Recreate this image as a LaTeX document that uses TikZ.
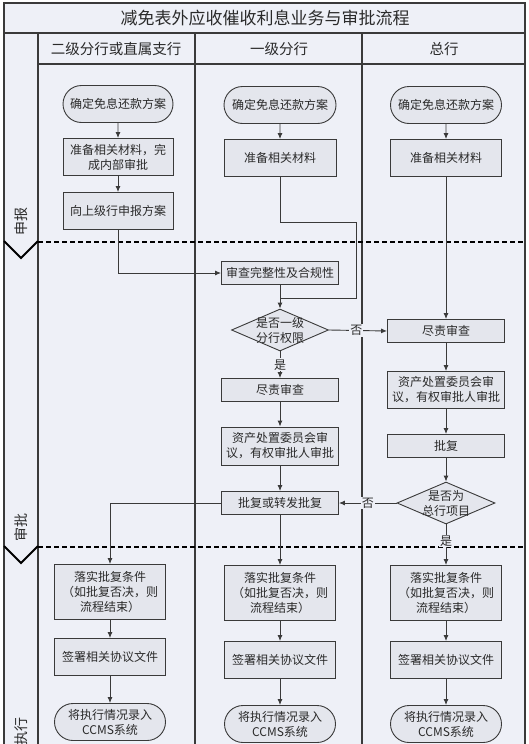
\documentclass[tikz,border=0pt]{standalone}
\usepackage{fontspec}
\setmainfont{Noto Sans CJK SC}
\usetikzlibrary{shapes.geometric,shapes.misc,arrows.meta}
\definecolor{bgc}{HTML}{EEF0F7}
\definecolor{boxc}{HTML}{E4E6ED}
\definecolor{linec}{HTML}{3A3A3A}
\definecolor{txtc}{HTML}{2A2A2A}
\tikzset{
  frame/.style={draw=linec, line width=1.1pt},
  sepdash/.style={draw=black, line width=2.2pt, dash pattern=on 5pt off 3pt},
  chev/.style={draw=black, line width=2pt},
  box/.style={draw=linec, line width=0.9pt, fill=boxc, inner sep=0pt, align=center,
    font=\fontsize{12}{15}\selectfont, text=txtc},
  wA/.style={minimum width=111pt},
  wB/.style={minimum width=117pt},
  hS/.style={minimum height=23pt},
  hM/.style={minimum height=37pt},
  hL/.style={minimum height=55pt},
  term/.style={box, rounded rectangle, rounded rectangle arc length=180, minimum width=111pt, minimum height=37pt},
  dia/.style={draw=linec, line width=0.9pt, fill=boxc, diamond, inner sep=0pt, minimum width=97pt, minimum height=42pt},
  diatxt/.style={align=center, inner sep=0pt, font=\fontsize{12}{15}\selectfont, text=txtc},
  conn/.style={draw=linec, line width=0.9pt, -{Latex[length=6pt,width=5pt]}},
  wire/.style={draw=linec, line width=0.9pt},
  lbl/.style={fill=bgc, inner sep=1pt, font=\fontsize{12}{12}\selectfont, text=txtc},
  hdr/.style={font=\fontsize{14.5}{14.5}\selectfont, text=txtc},
  phase/.style={rotate=90, font=\fontsize{14}{14}\selectfont, text=txtc}
}
\begin{document}
\begin{tikzpicture}[x=1pt,y=-1pt]
\useasboundingbox (0,0) rectangle (529,744);
\fill[white] (0,0) rectangle (529,744);
\fill[bgc] (4,3) rectangle (525,744);
% frame
\draw[frame] (4,744) -- (4,3) -- (525,3) -- (525,744);
\draw[frame] (4,33) -- (525,33);
\draw[frame] (38,64) -- (525,64);
\draw[frame] (38,33) -- (38,744);
\draw[frame] (195,33) -- (195,744);
\draw[frame] (362,33) -- (362,744);
% phase separators
\draw[sepdash] (38,242) -- (525,242);
\draw[sepdash] (38,547) -- (525,547);
\draw[chev] (4,241) -- (21,258) -- (38,241);
\draw[chev] (4,546) -- (21,563) -- (38,546);
% titles
\node[font=\fontsize{17}{17}\selectfont, text=txtc] (title) at (265,18) {减免表外应收催收利息业务与审批流程};
\node[hdr] (h1) at (116,49) {二级分行或直属支行};
\node[hdr] (h2) at (279,49) {一级分行};
\node[hdr] (h3) at (444,49) {总行};
\node[phase] (ph1) at (21,221) {申报};
\node[phase] (ph2) at (21,527) {审批};
\node[phase] (ph3) at (21,731) {执行};
% column 1
\node[term, minimum width=110pt] (t1) at (118,104) {确定免息还款方案};
\node[box, minimum width=110pt, hM] (b1a) at (118,157) {准备相关材料，完\\成内部审批};
\node[box, minimum width=110pt, hM] (b1b) at (118,211) {向上级行申报方案};
\node[box, wA, hL] (l1) at (110,592) {落实批复条件\\（如批复否决，则\\流程结束）};
\node[box, wA, hM] (s1) at (110,657) {签署相关协议文件};
\node[term] (e1) at (110,722) {将执行情况录入\\CCMS系统};
% column 2
\node[term, minimum width=112pt] (t2) at (280,105) {确定免息还款方案};
\node[box, minimum width=112pt, hM] (b2) at (280,158) {准备相关材料};
\node[box, wB, hS] (c2) at (280,273) {审查完整性及合规性};
\node[dia] (d2) at (280,330) {};
\node[diatxt] (d2t) at (d2.center) {是否一级\\分行权限};
\node[box, wB, hS] (r2) at (280,390) {尽责审查};
\node[box, wB, minimum height=38pt] (a2) at (280,446) {资产处置委员会审\\议，有权审批人审批};
\node[box, wB, hS] (p2) at (280,503) {批复或转发批复};
\node[box, wA, hL] (l2) at (280,593) {落实批复条件\\（如批复否决，则\\流程结束）};
\node[box, wA, hM] (s2) at (280,660) {签署相关协议文件};
\node[term] (e2) at (280,724) {将执行情况录入\\CCMS系统};
% column 3
\node[term] (t3) at (446,105) {确定免息还款方案};
\node[box, wA, hM] (b3) at (446,158) {准备相关材料};
\node[box, wB, hS] (r3) at (446,331) {尽责审查};
\node[box, wB, hM] (a3) at (446,390) {资产处置委员会审\\议，有权审批人审批};
\node[box, wB, hS] (p3) at (446,446) {批复};
\node[dia, minimum width=98pt] (d3) at (446,503) {};
\node[diatxt] (d3t) at (d3.center) {是否为\\总行项目};
\node[box, wA, hL] (l3) at (446,593) {落实批复条件\\（如批复否决，则\\流程结束）};
\node[box, wA, hM] (s3) at (446,660) {签署相关协议文件};
\node[term] (e3) at (446,724) {将执行情况录入\\CCMS系统};
% helper coordinates
\coordinate (k1) at (356,222);
\coordinate (k2) at (356,298);
\coordinate (k3) at (280,298);
% connectors column 1
\draw[conn] (t1) -- (b1a);
\draw[conn] (b1a) -- (b1b);
\draw[conn] (b1b.south) |- (c2.west);
\draw[conn] (l1) -- (s1);
\draw[conn] (s1) -- (e1);
% column 2
\draw[conn] (t2) -- (b2);
\draw[wire] (b2.south) |- (k1) -- (k2) -- (k3);
\draw[conn] (c2) -- (d2);
\draw[conn] (d2.south) -- node[lbl] {是} (r2.north);
\draw[conn] (d2.east) -- node[lbl, pos=0.47] {否} (r3.west);
\draw[conn] (r2) -- (a2);
\draw[conn] (a2) -- (p2);
\draw[conn] (p2.west) -| (l1.north);
\draw[conn] (p2) -- (l2);
\draw[conn] (l2) -- (s2);
\draw[conn] (s2) -- (e2);
% column 3
\draw[conn] (t3) -- (b3);
\draw[conn] (b3) -- (r3);
\draw[conn] (r3) -- (a3);
\draw[conn] (a3) -- (p3);
\draw[conn] (p3) -- (d3);
\draw[conn] (d3.west) -- node[lbl] {否} (p2.east);
\draw[conn] (d3.south) -- node[lbl, pos=0.41] {是} (l3.north);
\draw[conn] (l3) -- (s3);
\draw[conn] (s3) -- (e3);
\end{tikzpicture}
\end{document}
